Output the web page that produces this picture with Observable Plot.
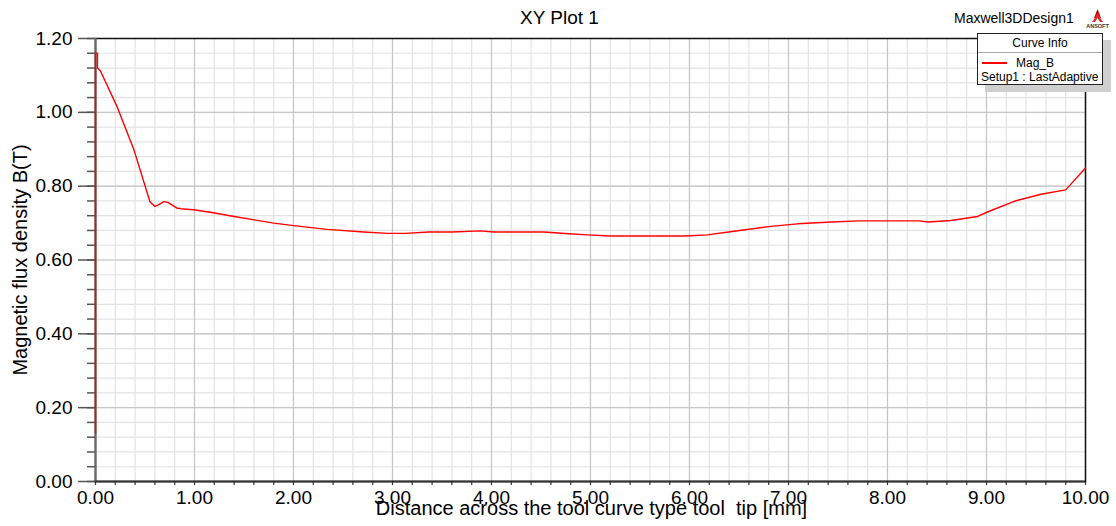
<!DOCTYPE html>
<html>
<head>
<meta charset="utf-8">
<script src="https://cdn.jsdelivr.net/npm/d3@7"></script>
<script src="https://cdn.jsdelivr.net/npm/@observablehq/plot@0.6"></script>
<style>
  html, body { margin: 0; padding: 0; background: #fff; }
  #wrap { position: relative; width: 1116px; height: 526px; font-family: "Liberation Sans", Arial, sans-serif; color: #000; }
  .abs { position: absolute; white-space: nowrap; }
  #legend { position: absolute; left: 977px; top: 33px; width: 124px; height: 50px; background: #fff; border: 1px solid #222; box-shadow: 8px 7px 0 #cfcfcf; font-size: 12px; }
  #legend .hdr { height: 18px; line-height: 19px; text-align: center; border-bottom: 1px solid #aaa; }
  #legend .row { position: relative; height: 14px; line-height: 14px; }
</style>
</head>
<body>
<div id="wrap">
  <div id="chart"></div>
  <div class="abs" style="left:0;width:1119px;top:7px;text-align:center;font-size:19px;">XY Plot 1</div>
  <div class="abs" style="left:954px;top:10px;font-size:14px;">Maxwell3DDesign1</div>
  <svg class="abs" style="left:1085px;top:8px;" width="30" height="22" viewBox="0 0 30 22">
    <path d="M12.5 1 L9 10 L11 10 L12.5 6 L14 10 L16 10 Z" fill="#d00000"/>
    <path d="M12.5 6 L7 14 L10 14 L12.5 10 L15 14 L18 14 Z" fill="#e03030"/>
    <text x="12.5" y="20" text-anchor="middle" font-size="5.5" font-weight="bold" font-family="Liberation Sans, Arial" fill="#333">ANSOFT</text>
  </svg>
  <div id="legend">
    <div class="hdr">Curve Info</div>
    <div class="row" style="margin-top:3px;"><span style="position:absolute;left:4px;top:6px;width:25px;height:2px;background:#ff0000;"></span><span style="position:absolute;left:38px;">Mag_B</span></div>
    <div class="row"><span style="position:absolute;left:3px;">Setup1 : LastAdaptive</span></div>
  </div>
</div>
<script>
// Curve: Mag_B (Setup1 : LastAdaptive)
const distanceMm = [0, 0, 0.02, 0.02, 0.05, 0.22, 0.39, 0.55, 0.60, 0.64, 0.69, 0.73, 0.82, 0.86, 0.99, 1.19, 1.40, 1.62, 1.80, 2.00, 2.34, 2.71, 2.95, 3.13, 3.37, 3.60, 3.89, 4.02, 4.53, 4.78, 4.97, 5.20, 5.95, 6.18, 6.45, 6.82, 7.09, 7.43, 7.72, 8.32, 8.41, 8.64, 8.91, 9.01, 9.28, 9.55, 9.80, 10.0];
const magB = [0.131, 1.16, 1.16, 1.12, 1.112, 1.014, 0.897, 0.758, 0.745, 0.750, 0.758, 0.756, 0.741, 0.739, 0.736, 0.728, 0.718, 0.708, 0.700, 0.693, 0.683, 0.676, 0.672, 0.672, 0.676, 0.676, 0.679, 0.676, 0.676, 0.671, 0.668, 0.665, 0.665, 0.668, 0.678, 0.691, 0.698, 0.703, 0.706, 0.706, 0.703, 0.707, 0.718, 0.730, 0.759, 0.778, 0.790, 0.849];

const xMajorTicks = [0, 1, 2, 3, 4, 5, 6, 7, 8, 9, 10];
const xMinorTicks = [0, 0.2, 0.4, 0.6, 0.8, 1, 1.2, 1.4, 1.6, 1.8, 2, 2.2, 2.4, 2.6, 2.8, 3, 3.2, 3.4, 3.6, 3.8, 4, 4.2, 4.4, 4.6, 4.8, 5, 5.2, 5.4, 5.6, 5.8, 6, 6.2, 6.4, 6.6, 6.8, 7, 7.2, 7.4, 7.6, 7.8, 8, 8.2, 8.4, 8.6, 8.8, 9, 9.2, 9.4, 9.6, 9.8, 10];
const yMajorTicks = [0, 0.2, 0.4, 0.6, 0.8, 1.0, 1.2];
const yMinorTicks = [0, 0.04, 0.08, 0.12, 0.16, 0.2, 0.24, 0.28, 0.32, 0.36, 0.4, 0.44, 0.48, 0.52, 0.56, 0.6, 0.64, 0.68, 0.72, 0.76, 0.8, 0.84, 0.88, 0.92, 0.96, 1.0, 1.04, 1.08, 1.12, 1.16, 1.2];

const xTitle = "Distance across the tool curve type tool  tip [mm]";
const yTitle = "Magnetic flux density B(T)";

const rows = distanceMm.map((d, i) => ({x: d, y: magB[i]}));
const fmt = d => d.toFixed(2);

const chart = Plot.plot({
  width: 1116,
  height: 526,
  marginTop: 38,
  marginRight: 31,
  marginBottom: 45,
  marginLeft: 95,
  style: {fontFamily: "'Liberation Sans', Arial, sans-serif", fontSize: "19px", background: "transparent", color: "#000", overflow: "visible"},
  x: {domain: [0, 10]},
  y: {domain: [0, 1.2]},
  marks: [
    Plot.gridX({ticks: xMinorTicks, stroke: "#e3e3e3", strokeOpacity: 1, strokeWidth: 1.2}),
    Plot.gridY({ticks: yMinorTicks, stroke: "#e3e3e3", strokeOpacity: 1, strokeWidth: 1.2}),
    Plot.gridX({ticks: xMajorTicks, stroke: "#c6c6c6", strokeOpacity: 1, strokeWidth: 1.2}),
    Plot.gridY({ticks: yMajorTicks, stroke: "#c6c6c6", strokeOpacity: 1, strokeWidth: 1.2}),
    Plot.axisY({ticks: yMinorTicks, tickSize: 8, tickFormat: () => "", label: null, stroke: "#555", strokeWidth: 1.5}),
    Plot.axisY({ticks: yMajorTicks, tickSize: 17, tickPadding: 6, tickFormat: fmt, label: null, stroke: "#555", strokeWidth: 1.5}),
    Plot.axisX({ticks: xMinorTicks, tickSize: 4, tickFormat: () => "", label: null, stroke: "#333", strokeWidth: 1.2}),
    Plot.axisX({ticks: xMajorTicks, tickSize: 0, tickPadding: 9, tickFormat: fmt, label: null}),
    Plot.frame({stroke: "#111", strokeWidth: 1.5}),
    Plot.ruleX([0], {stroke: "#6a6a6a", strokeWidth: 2}),
    Plot.ruleY([0], {stroke: "#333", strokeWidth: 2}),
    Plot.line(rows, {x: "x", y: "y", stroke: "#ff0000", strokeWidth: 1.4}),
    Plot.text([yTitle], {frameAnchor: "left", dx: -75, rotate: -90, lineAnchor: "middle", textAnchor: "middle", fontSize: 20, fill: "#000"}),
    Plot.text([xTitle], {frameAnchor: "bottom", dy: 27, dx: 1, lineAnchor: "middle", textAnchor: "middle", fontSize: 20, fill: "#000"})
  ]
});
document.getElementById("chart").appendChild(chart);
</script>
</body>
</html>
